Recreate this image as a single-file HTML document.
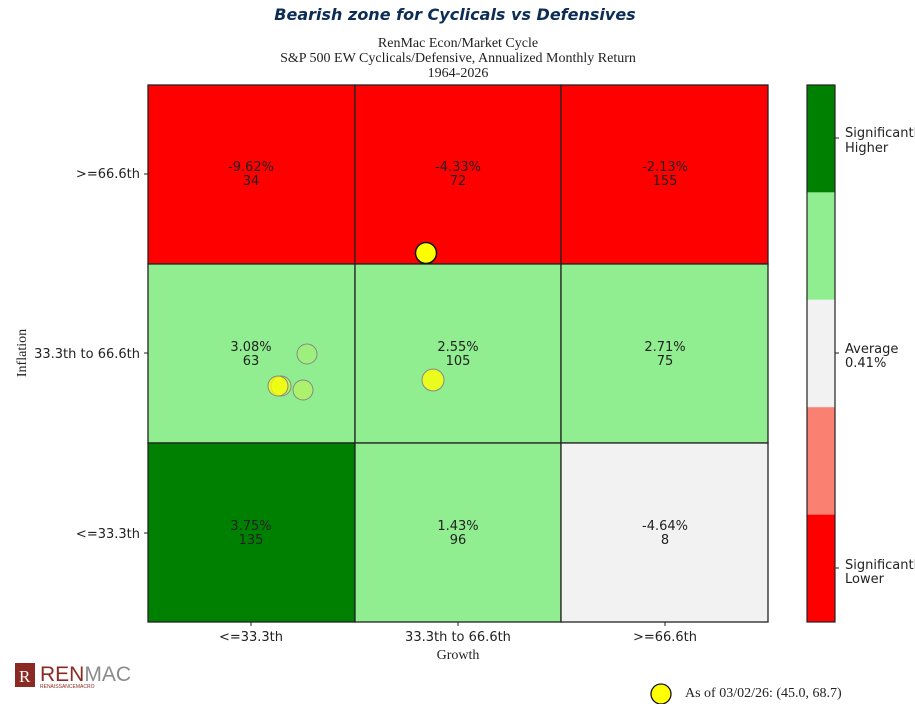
<!DOCTYPE html>
<html><head><style>
body{margin:0;background:#fff;width:915px;height:704px;overflow:hidden}
svg{display:block}
.s{font-family:"DejaVu Sans","Liberation Sans",sans-serif;font-size:13px;fill:#222}
.r{font-family:"Liberation Serif",serif;font-size:14px;fill:#222}
</style></head><body>
<svg width="915" height="704" xmlns="http://www.w3.org/2000/svg">
<text x="455" y="20" text-anchor="middle" font-family="'DejaVu Sans',sans-serif" font-size="16" font-weight="bold" font-style="italic" fill="#0d2d55">Bearish zone for Cyclicals vs Defensives</text>
<text class="r" x="458" y="47" text-anchor="middle">RenMac Econ/Market Cycle</text>
<text class="r" x="458" y="62" text-anchor="middle">S&amp;P 500 EW Cyclicals/Defensive, Annualized Monthly Return</text>
<text class="r" x="458" y="77" text-anchor="middle">1964-2026</text>
<g stroke="#222" stroke-width="1.3">
<rect x="148" y="85" width="207" height="179" fill="#ff0000"/>
<rect x="355" y="85" width="206" height="179" fill="#ff0000"/>
<rect x="561" y="85" width="207" height="179" fill="#ff0000"/>
<rect x="148" y="264" width="207" height="179" fill="#90ee90"/>
<rect x="355" y="264" width="206" height="179" fill="#90ee90"/>
<rect x="561" y="264" width="207" height="179" fill="#90ee90"/>
<rect x="148" y="443" width="207" height="179" fill="#008000"/>
<rect x="355" y="443" width="206" height="179" fill="#90ee90"/>
<rect x="561" y="443" width="207" height="179" fill="#f2f2f2"/>
</g>
<g class="s" text-anchor="middle">
<text x="251" y="171">-9.62%</text><text x="251" y="185">34</text>
<text x="458" y="171">-4.33%</text><text x="458" y="185">72</text>
<text x="665" y="171">-2.13%</text><text x="665" y="185">155</text>
<text x="251" y="351">3.08%</text><text x="251" y="365">63</text>
<text x="458" y="351">2.55%</text><text x="458" y="365">105</text>
<text x="665" y="351">2.71%</text><text x="665" y="365">75</text>
<text x="251" y="530">3.75%</text><text x="251" y="544">135</text>
<text x="458" y="530">1.43%</text><text x="458" y="544">96</text>
<text x="665" y="530">-4.64%</text><text x="665" y="544">8</text>
</g>
<g stroke="#888" stroke-width="1">
<circle cx="307" cy="354" r="10" fill="#ffff00" fill-opacity="0.12"/>
<circle cx="303" cy="390" r="10" fill="#ffff00" fill-opacity="0.25"/>
<circle cx="281" cy="386" r="10" fill="#ffff00" fill-opacity="0.4"/>
<circle cx="278" cy="386" r="10" fill="#ffff00" fill-opacity="0.75"/>
<circle cx="433" cy="380" r="11" fill="#ffff00" fill-opacity="0.8"/>
</g>
<circle cx="426" cy="253" r="10.5" fill="#ffff00" stroke="#111" stroke-width="1.5"/>
<g stroke="#222"><line x1="144" y1="174" x2="148" y2="174"/><line x1="144" y1="353" x2="148" y2="353"/><line x1="144" y1="533" x2="148" y2="533"/>
<line x1="251" y1="622" x2="251" y2="626"/><line x1="458" y1="622" x2="458" y2="626"/><line x1="665" y1="622" x2="665" y2="626"/></g>
<g class="s" text-anchor="end"><text x="140" y="178">&gt;=66.6th</text><text x="140" y="358">33.3th to 66.6th</text><text x="140" y="538">&lt;=33.3th</text></g>
<g class="s" text-anchor="middle"><text x="251" y="641">&lt;=33.3th</text><text x="458" y="641">33.3th to 66.6th</text><text x="665" y="641">&gt;=66.6th</text></g>
<text class="r" x="458" y="659" text-anchor="middle">Growth</text>
<text class="r" x="26" y="353" text-anchor="middle" transform="rotate(-90 26 353)">Inflation</text>
<rect x="807" y="85" width="28" height="107.4" fill="#008000"/>
<rect x="807" y="192.4" width="28" height="107.4" fill="#90ee90"/>
<rect x="807" y="299.8" width="28" height="107.4" fill="#f2f2f2"/>
<rect x="807" y="407.2" width="28" height="107.4" fill="#fa8072"/>
<rect x="807" y="514.6" width="28" height="107.4" fill="#ff0000"/>
<rect x="807" y="85" width="28" height="537" fill="none" stroke="#222" stroke-width="1.2"/>
<g stroke="#222"><line x1="835" y1="138" x2="839" y2="138"/><line x1="835" y1="353" x2="839" y2="353"/><line x1="835" y1="568" x2="839" y2="568"/></g>
<g class="s"><text x="845" y="137">Significantly</text><text x="845" y="152">Higher</text>
<text x="845" y="353">Average</text><text x="845" y="367">0.41%</text>
<text x="845" y="569">Significantly</text><text x="845" y="583">Lower</text></g>
<rect x="15" y="663" width="20" height="24" fill="#8b2a22"/>
<text x="19" y="682" font-family="Liberation Serif,serif" font-size="17" fill="#fff">R</text>
<text x="40" y="681" font-family="Liberation Sans,sans-serif" font-size="21" fill="#8b2a22">REN<tspan fill="#8b8b8b">MAC</tspan></text>
<text x="40" y="688" font-family="Liberation Sans,sans-serif" font-size="5" fill="#8b2a22">RENAISSANCEMACRO</text>
<circle cx="661" cy="694" r="10" fill="#ffff00" stroke="#111" stroke-width="1.3"/>
<text class="r" x="685" y="697" font-size="12">As of 03/02/26: (45.0, 68.7)</text>
</svg>
</body></html>
